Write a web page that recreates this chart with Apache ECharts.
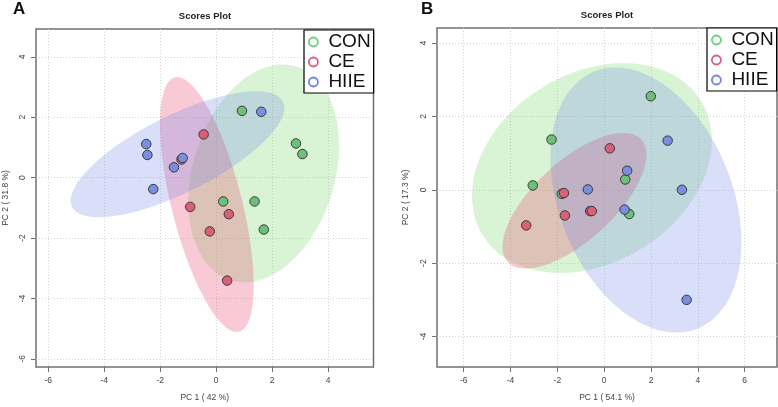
<!DOCTYPE html>
<html>
<head>
<meta charset="utf-8">
<script src="https://cdn.jsdelivr.net/npm/echarts@6/dist/echarts.min.js"></script>
<style>
html,body{margin:0;padding:0;background:#fff;}
#c{width:778px;height:407px;}
</style>
</head>
<body>
<div id="c"></div>
<script>
// ---------- data ----------
const groups = ['CON', 'CE', 'HIIE'];

// Panel A
const conA_x = [0.92, 2.85, 3.08, 0.25, 1.37, 1.70];
const conA_y = [2.21, 1.13, 0.78, -0.79, -0.79, -1.72];
const ceA_x = [-0.45, -1.24, -0.93, 0.45, -0.23, 0.39];
const ceA_y = [1.43, 0.60, -0.97, -1.21, -1.78, -3.41];
const hiieA_x = [1.61, -2.50, -2.46, -1.20, -1.51, -2.25];
const hiieA_y = [2.18, 1.11, 0.75, 0.65, 0.34, -0.38];

// Panel B
const conB_x = [1.99, -2.25, -3.05, 0.90, -1.81, 1.07];
const conB_y = [2.55, 1.37, 0.12, 0.28, -0.11, -0.66];
const ceB_x = [0.24, -1.72, -3.33, -1.68, -0.60, -0.53];
const ceB_y = [1.13, -0.09, -0.97, -0.70, -0.58, -0.58];
const hiieB_x = [2.71, 0.98, -0.70, 3.32, 0.87, 3.52];
const hiieB_y = [1.34, 0.52, 0.01, 0.00, -0.54, -3.00];

const ticksA_x = [-6, -4, -2, 0, 2, 4];
const ticksA_y = [-6, -4, -2, 0, 2, 4];
const ticksB_x = [-6, -4, -2, 0, 2, 4, 6];
const ticksB_y = [-4, -2, 0, 2, 4];

const titleText = 'Scores Plot';
const xNameA = 'PC 1 ( 42 %)', yNameA = 'PC 2 ( 31.8 %)';
const xNameB = 'PC 1 ( 54.1 %)', yNameB = 'PC 2 ( 17.3 %)';

// ---------- styles ----------
const FONT = "'Liberation Sans', Arial, sans-serif";
const pointColors = {CON: '#6cc177', CE: '#dc5f78', HIIE: '#7a8ddf'};
const legendColors = {CON: '#6ccd78', CE: '#e25a7c', HIIE: '#6f82e0'};
const fillColors = {CON: 'rgba(97,208,79,0.24)', CE: 'rgba(232,80,120,0.30)', HIIE: 'rgba(110,130,230,0.26)'};

// 95% confidence ellipse (as in R's ellipse package)
function ellipsePts(xs, ys) {
  const n = xs.length;
  const mx = xs.reduce((a, b) => a + b, 0) / n;
  const my = ys.reduce((a, b) => a + b, 0) / n;
  let sxx = 0, syy = 0, sxy = 0;
  for (let i = 0; i < n; i++) {
    sxx += (xs[i] - mx) ** 2;
    syy += (ys[i] - my) ** 2;
    sxy += (xs[i] - mx) * (ys[i] - my);
  }
  const sx = Math.sqrt(sxx / (n - 1)), sy = Math.sqrt(syy / (n - 1));
  const r = sxy / (n - 1) / (sx * sy);
  const d = Math.acos(r);
  const t = Math.sqrt(-2 * Math.log(0.05));
  const pts = [];
  for (let k = 0; k < 100; k++) {
    const a = 2 * Math.PI * k / 99;
    pts.push([t * sx * Math.cos(a + d / 2) + mx, t * sy * Math.cos(a - d / 2) + my]);
  }
  return {pts, centre: [mx, my]};
}

const panels = [
  {data: {CON: [conA_x, conA_y], CE: [ceA_x, ceA_y], HIIE: [hiieA_x, hiieA_y]}},
  {data: {CON: [conB_x, conB_y], CE: [ceB_x, ceB_y], HIIE: [hiieB_x, hiieB_y]}}
];

const series = [];
panels.forEach((p, pi) => {
  groups.forEach(g => {
    const e = ellipsePts(p.data[g][0], p.data[g][1]);
    series.push({
      type: 'custom', name: 'ellipse-' + g, xAxisIndex: pi, yAxisIndex: pi,
      silent: true, z: 1, data: [e.centre],
      renderItem: (params, api) => ({
        type: 'polygon',
        shape: {points: e.pts.map(q => api.coord(q))},
        style: {fill: fillColors[g], stroke: null}
      })
    });
  });
});
panels.forEach((p, pi) => {
  groups.forEach(g => {
    const xs = p.data[g][0], ys = p.data[g][1];
    series.push({
      type: 'scatter', name: g, xAxisIndex: pi, yAxisIndex: pi, z: 3,
      symbolSize: 9.5,
      itemStyle: {color: pointColors[g], borderColor: '#3a3a3a', borderWidth: 1, opacity: 1},
      data: xs.map((x, i) => [x, ys[i]])
    });
  });
});

function xAxis(gi, min, max, ticks, name) {
  return {
    type: 'value', gridIndex: gi, min, max, position: 'bottom',
    axisLine: {show: false, onZero: false},
    axisTick: {show: true, length: 5, customValues: ticks, lineStyle: {color: '#707070', width: 1}},
    axisLabel: {customValues: ticks, margin: 9, color: '#444', fontSize: 8.5, fontFamily: FONT},
    splitLine: {show: true, lineStyle: {color: '#d6d6d6', width: 1, type: [1, 2]}},
    name, nameLocation: 'middle', nameGap: 26,
    nameTextStyle: {color: '#444', fontSize: 8.5, fontFamily: FONT}
  };
}
function yAxis(gi, min, max, ticks, name, gap) {
  return {
    type: 'value', gridIndex: gi, min, max, position: 'left',
    axisLine: {show: false, onZero: false},
    axisTick: {show: true, length: 5, customValues: ticks, lineStyle: {color: '#707070', width: 1}},
    axisLabel: {customValues: ticks, rotate: 90, margin: 9, color: '#444', fontSize: 8.5, fontFamily: FONT},
    splitLine: {show: true, lineStyle: {color: '#d6d6d6', width: 1, type: [1, 2]}},
    name, nameLocation: 'middle', nameGap: gap, nameRotate: 90,
    nameTextStyle: {color: '#444', fontSize: 8.5, fontFamily: FONT}
  };
}
function legend(left, top) {
  return {
    orient: 'vertical', left, top,
    padding: [2, 3, 1, 4], itemGap: 0, itemWidth: 10, itemHeight: 9,
    borderColor: '#000', borderWidth: 1.2, backgroundColor: '#fff',
    selectedMode: false,
    textStyle: {fontSize: 19, color: '#111', lineHeight: 20, fontFamily: FONT, padding: [0, 0, 0, 5]},
    data: groups.map(g => ({name: g, icon: 'circle',
      itemStyle: {color: 'rgba(255,255,255,0)', borderColor: legendColors[g], borderWidth: 1.8}}))
  };
}

const option = {
  animation: false,
  backgroundColor: '#fff',
  title: [
    {text: titleText, left: 205, top: 11.5, padding: 0, textAlign: 'center',
      textStyle: {fontSize: 9.5, fontWeight: 'bold', color: '#222', fontFamily: FONT}},
    {text: titleText, left: 607, top: 10.5, padding: 0, textAlign: 'center',
      textStyle: {fontSize: 9.5, fontWeight: 'bold', color: '#222', fontFamily: FONT}},
    {text: 'A', left: 13, top: 1, padding: 0, textStyle: {fontSize: 17, fontWeight: 'bold', color: '#111', fontFamily: FONT}},
    {text: 'B', left: 421, top: 1, padding: 0, textStyle: {fontSize: 17, fontWeight: 'bold', color: '#111', fontFamily: FONT}}
  ],
  legend: [legend(304, 30), legend(707, 28)],
  grid: [
    {left: 36, top: 29, width: 337.5, height: 339, show: true, borderColor: '#707070', borderWidth: 1.5, backgroundColor: '#fff'},
    {left: 437, top: 28, width: 340, height: 340, show: true, borderColor: '#707070', borderWidth: 1.5, backgroundColor: '#fff'}
  ],
  xAxis: [xAxis(0, -6.44, 5.62, ticksA_x, xNameA), xAxis(1, -7.14, 7.38, ticksB_x, xNameB)],
  yAxis: [yAxis(0, -6.27, 4.92, ticksA_y, yNameA, 26), yAxis(1, -4.83, 4.41, ticksB_y, yNameB, 27)],
  series
};

const chart = echarts.init(document.getElementById('c'), null, {renderer: 'canvas'});
chart.setOption(option);
</script>
</body>
</html>
